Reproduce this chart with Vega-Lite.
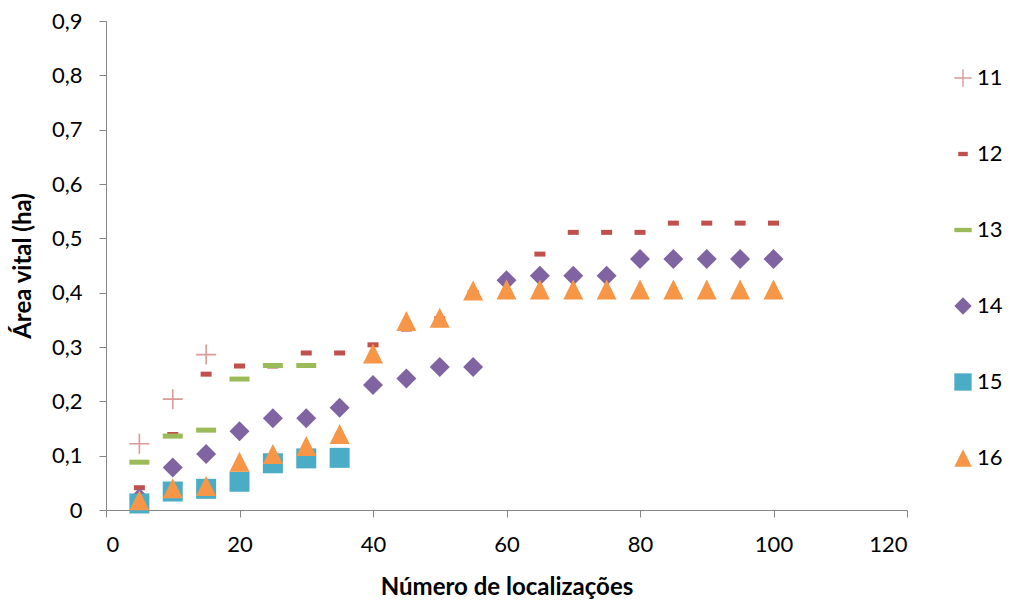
{
  "$schema": "https://vega.github.io/schema/vega-lite/v6.json",
  "width": 801,
  "height": 489,
  "autosize": {"type": "none"},
  "padding": {"left": 106, "top": 21, "right": 103, "bottom": 93},
  "background": "white",
  "config": {
    "view": {"stroke": null},
    "font": "Lato",
    "axis": {
      "grid": false,
      "domainColor": "#868686",
      "tickColor": "#868686",
      "domainWidth": 1,
      "tickSize": 7,
      "labelColor": "#000000",
      "labelFont": "Lato",
      "labelFontSize": 22,
      "titleFont": "Lato",
      "titleFontSize": 24,
      "titleFontWeight": "bold",
      "titleColor": "#000000"
    },
    "legend": {
      "title": null,
      "orient": "none",
      "legendX": 846,
      "legendY": 46,
      "padding": 0,
      "symbolSize": 300,
      "symbolStrokeWidth": 0,
      "rowPadding": 54,
      "labelFont": "Lato",
      "labelFontSize": 22,
      "labelColor": "#000000",
      "labelOffset": 3
    }
  },
  "data": {
    "values": [
      {"s": "11", "x": 5, "y": 0.122},
      {"s": "11", "x": 10, "y": 0.204},
      {"s": "11", "x": 15, "y": 0.286},
      {"s": "12", "x": 5, "y": 0.041},
      {"s": "12", "x": 10, "y": 0.139},
      {"s": "12", "x": 15, "y": 0.25},
      {"s": "12", "x": 20, "y": 0.265},
      {"s": "12", "x": 25, "y": 0.265},
      {"s": "12", "x": 30, "y": 0.289},
      {"s": "12", "x": 35, "y": 0.289},
      {"s": "12", "x": 40, "y": 0.304},
      {"s": "12", "x": 45, "y": 0.333},
      {"s": "12", "x": 50, "y": 0.352},
      {"s": "12", "x": 55, "y": 0.4},
      {"s": "12", "x": 60, "y": 0.4},
      {"s": "12", "x": 65, "y": 0.471},
      {"s": "12", "x": 70, "y": 0.511},
      {"s": "12", "x": 75, "y": 0.511},
      {"s": "12", "x": 80, "y": 0.511},
      {"s": "12", "x": 85, "y": 0.528},
      {"s": "12", "x": 90, "y": 0.528},
      {"s": "12", "x": 95, "y": 0.528},
      {"s": "12", "x": 100, "y": 0.528},
      {"s": "13", "x": 5, "y": 0.088},
      {"s": "13", "x": 10, "y": 0.136},
      {"s": "13", "x": 15, "y": 0.147},
      {"s": "13", "x": 20, "y": 0.241},
      {"s": "13", "x": 25, "y": 0.266},
      {"s": "13", "x": 30, "y": 0.266},
      {"s": "14", "x": 5, "y": 0.022},
      {"s": "14", "x": 10, "y": 0.078},
      {"s": "14", "x": 15, "y": 0.103},
      {"s": "14", "x": 20, "y": 0.145},
      {"s": "14", "x": 25, "y": 0.169},
      {"s": "14", "x": 30, "y": 0.169},
      {"s": "14", "x": 35, "y": 0.188},
      {"s": "14", "x": 40, "y": 0.23},
      {"s": "14", "x": 45, "y": 0.242},
      {"s": "14", "x": 50, "y": 0.263},
      {"s": "14", "x": 55, "y": 0.263},
      {"s": "14", "x": 60, "y": 0.423},
      {"s": "14", "x": 65, "y": 0.431},
      {"s": "14", "x": 70, "y": 0.431},
      {"s": "14", "x": 75, "y": 0.431},
      {"s": "14", "x": 80, "y": 0.462},
      {"s": "14", "x": 85, "y": 0.462},
      {"s": "14", "x": 90, "y": 0.462},
      {"s": "14", "x": 95, "y": 0.462},
      {"s": "14", "x": 100, "y": 0.462},
      {"s": "15", "x": 5, "y": 0.012},
      {"s": "15", "x": 10, "y": 0.034},
      {"s": "15", "x": 15, "y": 0.039},
      {"s": "15", "x": 20, "y": 0.052},
      {"s": "15", "x": 25, "y": 0.086},
      {"s": "15", "x": 30, "y": 0.095},
      {"s": "15", "x": 35, "y": 0.096},
      {"s": "16", "x": 5, "y": 0.018},
      {"s": "16", "x": 10, "y": 0.04},
      {"s": "16", "x": 15, "y": 0.044},
      {"s": "16", "x": 20, "y": 0.089},
      {"s": "16", "x": 25, "y": 0.103},
      {"s": "16", "x": 30, "y": 0.118},
      {"s": "16", "x": 35, "y": 0.14},
      {"s": "16", "x": 40, "y": 0.288},
      {"s": "16", "x": 45, "y": 0.348},
      {"s": "16", "x": 50, "y": 0.354},
      {"s": "16", "x": 55, "y": 0.404},
      {"s": "16", "x": 60, "y": 0.406},
      {"s": "16", "x": 65, "y": 0.406},
      {"s": "16", "x": 70, "y": 0.406},
      {"s": "16", "x": 75, "y": 0.406},
      {"s": "16", "x": 80, "y": 0.406},
      {"s": "16", "x": 85, "y": 0.406},
      {"s": "16", "x": 90, "y": 0.406},
      {"s": "16", "x": 95, "y": 0.406},
      {"s": "16", "x": 100, "y": 0.406}
    ]
  },
  "mark": {"type": "point", "filled": true, "opacity": 1, "size": 400, "strokeWidth": 0},
  "encoding": {
    "x": {
      "field": "x",
      "type": "quantitative",
      "scale": {"domain": [0, 120], "nice": false},
      "axis": {
        "values": [0, 20, 40, 60, 80, 100, 120],
        "title": "Número de localizações",
        "labelPadding": 17,
        "titlePadding": 20
      }
    },
    "y": {
      "field": "y",
      "type": "quantitative",
      "scale": {"domain": [0, 0.9], "nice": false},
      "axis": {
        "values": [0, 0.1, 0.2, 0.3, 0.4, 0.5, 0.6, 0.7, 0.8, 0.9],
        "labelExpr": "datum.value == 0 ? '0' : replace(format(datum.value, '.1f'), '.', ',')",
        "title": "Área vital (ha)",
        "labelPadding": 17,
        "titlePadding": 16
      }
    },
    "color": {
      "field": "s",
      "type": "nominal",
      "scale": {
        "domain": ["11", "12", "13", "14", "15", "16"],
        "range": ["#DA9A98", "#C0504D", "#9BBB59", "#8064A2", "#4BACC6", "#F79646"]
      }
    },
    "shape": {
      "field": "s",
      "type": "nominal",
      "scale": {
        "domain": ["11", "12", "13", "14", "15", "16"],
        "range": [
          "M-1,-0.08L-0.08,-0.08L-0.08,-1L0.08,-1L0.08,-0.08L1,-0.08L1,0.08L0.08,0.08L0.08,1L-0.08,1L-0.08,0.08L-1,0.08Z",
          "M-0.55,-0.25L0.55,-0.25L0.55,0.25L-0.55,0.25Z",
          "M-1,-0.25L1,-0.25L1,0.25L-1,0.25Z",
          "M0,-1L1,0L0,1L-1,0Z",
          "M-1,-1L1,-1L1,1L-1,1Z",
          "M0,-1L1,1L-1,1Z"
        ]
      }
    }
  }
}
